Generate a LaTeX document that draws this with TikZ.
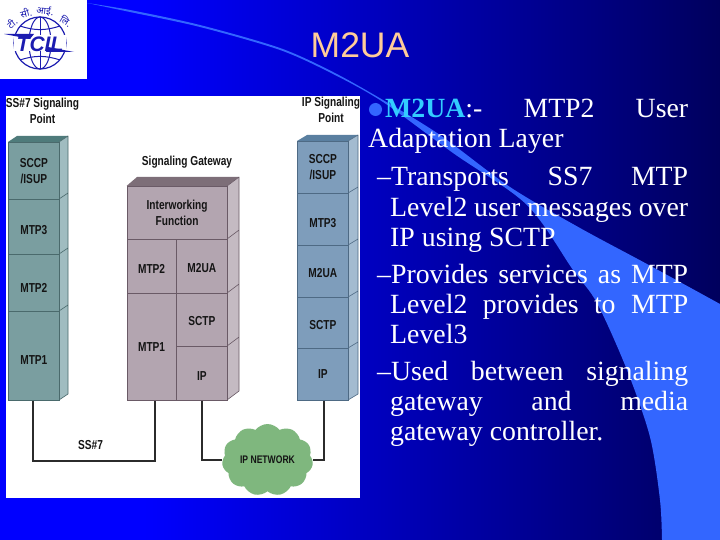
\documentclass[tikz,border=0pt]{standalone}
\usepackage{fontspec}
\usetikzlibrary{shapes.symbols}
\setmainfont{Liberation Serif}
\newfontfamily\titlefont{Liberation Sans}
\newfontfamily\labfont[FakeStretch=0.78]{Liberation Sans}
\newfontfamily\hindifont[Script=Devanagari]{Noto Sans}
\newcommand{\jl}[2]{\makebox[#1pt][s]{#2}}
\definecolor{bgA}{rgb}{0,0,1}
\definecolor{bgB}{rgb}{0,0,0}
\pgfdeclarehorizontalshading{bgshade}{100bp}{color(0bp)=(bgA); color(35bp)=(bgA); color(98bp)=(bgB); color(100bp)=(bgB)}
\definecolor{wedgeblue}{HTML}{3366FF}
\definecolor{titlepeach}{HTML}{FFCC99}
\definecolor{headcyan}{HTML}{33CCFF}
\definecolor{logoblue}{HTML}{1C1CB0}
\definecolor{tealF}{HTML}{7A9EA0}\definecolor{tealT}{HTML}{4F7B7B}\definecolor{tealS}{HTML}{A0BCC0}\definecolor{tealL}{HTML}{4A6A6C}
\definecolor{mauveF}{HTML}{B3A5B0}\definecolor{mauveT}{HTML}{7D6E78}\definecolor{mauveS}{HTML}{C4BAC2}\definecolor{mauveL}{HTML}{6A5A66}
\definecolor{steelF}{HTML}{7E9DBB}\definecolor{steelT}{HTML}{5A7FA0}\definecolor{steelS}{HTML}{A3BBD0}\definecolor{steelL}{HTML}{4E6A84}
\definecolor{cloudgreen}{HTML}{7FB77E}
\definecolor{wirecol}{HTML}{2B2B2B}
\tikzset{
  x=1pt,y=-1pt,
  layerbox/.style={draw,line width=.7pt,anchor=north west,inner sep=0pt,align=center,
    font=\labfont\bfseries\fontsize{13}{16}\selectfont,text=black!92},
  teal box/.style={layerbox,fill=tealF,draw=tealL},
  mauve box/.style={layerbox,fill=mauveF,draw=mauveL},
  steel box/.style={layerbox,fill=steelF,draw=steelL},
  caption/.style={align=center,inner sep=0pt,font=\labfont\bfseries\fontsize{13}{15.5}\selectfont,text=black!92},
  wire/.style={draw=wirecol,line width=1.9pt},
  slideline/.style={anchor=base west,inner sep=0pt,text=white,font=\fontsize{27.8}{30}\selectfont},
  hindi/.style={inner sep=0pt,text=logoblue,font=\hindifont\bfseries\fontsize{9.5}{10}\selectfont},
}
\begin{document}
\begin{tikzpicture}
\useasboundingbox (0,0) rectangle (720,540);
% background
\shade[shading=bgshade] (0,0) rectangle (720,540);
% wedge
\fill[wedgeblue] plot[smooth,tension=.5] coordinates {(87,3)(130,10)(200,25)(280,48)(333,72)(383,100)(440,135)(510,187)(580,228)(647,264)(720,304)}
  -- (720,540) -- (662,540)
  -- plot[smooth,tension=.5] coordinates {(662,540)(660,500)(650,437)(627,370)(597,303)(573,270)(527,205)(453,153)(383,102)(333,74)(280,50)(200,27)(130,12)(87,3)} -- cycle;
% logo
\fill[white] (0,0) rectangle (87,79);
\begin{scope}[logoblue]
\draw[line width=1.2pt] (40,43) circle [radius=26];
\draw[line width=1pt] (40,43) ellipse [x radius=11,y radius=26];
\draw[line width=1pt] (40,17) -- (40,69);
\draw[line width=1pt] (20,26) to[bend right=18] (60,26);
\draw[line width=1pt] (20,60) to[bend left=18] (60,60);
\fill[white] (14,35) rectangle (66,51);
\fill (4,34) -- (34,34) -- (30,39) -- cycle;
\fill (74,52) -- (46,52) -- (48,47) -- cycle;
\end{scope}
\node[inner sep=0pt,text=logoblue,font=\titlefont\bfseries\itshape\fontsize{21}{22}\selectfont] (logotext) at (40,44) {TCIL};
\node[hindi,rotate=38] (h1) at (12,23) {टी.};
\node[hindi,rotate=14] (h2) at (26,13) {सी.};
\node[hindi,rotate=-6] (h3) at (45,11) {आई.};
\node[hindi,rotate=-32] (h4) at (66,21) {लि.};
% panel
\fill[white] (6,96) rectangle (360,498);
% title
\node[anchor=base,inner sep=0pt,text=titlepeach,font=\titlefont\fontsize{35.5}{38}\selectfont] (title) at (360,58) {M2UA};
% slide text
\fill[wedgeblue] (375.5,109.5) circle [radius=6.5];
\node[slideline] (l1) at (385,118) {\jl{303}{\textcolor{headcyan}{\textbf{M2UA}}:-\hfill MTP2\hfill User}};
\node[slideline] (l2) at (368,148) {Adaptation Layer};
\node[slideline] (l3) at (377,186) {\jl{311}{–Transports\hfill SS7\hfill MTP}};
\node[slideline] (l4) at (390,216) {\jl{298}{Level2\hfill user\hfill messages\hfill over}};
\node[slideline] (l5) at (390,246) {IP using SCTP};
\node[slideline] (l6) at (377,283) {\jl{311}{–Provides\hfill services\hfill as\hfill MTP}};
\node[slideline] (l7) at (390,313) {\jl{298}{Level2\hfill provides\hfill to\hfill MTP}};
\node[slideline] (l8) at (390,343) {Level3};
\node[slideline] (l9) at (377,380) {\jl{311}{–Used\hfill between\hfill signaling}};
\node[slideline] (l10) at (390,410) {\jl{298}{gateway\hfill and\hfill media}};
\node[slideline] (l11) at (390,440) {gateway controller.};
% captions
\node[caption] (capL) at (42.5,111) {SS\#7 Signaling\\Point};
\node[caption] (capG) at (187,162) {Signaling Gateway};
\node[caption] (capR) at (331,110) {IP Signaling\\Point};
% teal stack
\fill[tealT] (8,142) -- (17,136) -- (68,136) -- (59,142) -- cycle;
\fill[tealS] (59,142) -- (68,136) -- (68,394) -- (59,400) -- cycle;
\draw[tealL,line width=.6pt] (59,142) -- (68,136) (59,199) -- (68,193) (59,254) -- (68,248) (59,311) -- (68,305) (59,400) -- (68,394) -- (68,136);
\node[teal box,minimum width=51,minimum height=57] (tA) at (8,142) {SCCP\\/ISUP};
\node[teal box,minimum width=51,minimum height=55,text height=15.3pt] (tB) at (8,199) {MTP3};
\node[teal box,minimum width=51,minimum height=57,text height=18.3pt] (tC) at (8,254) {MTP2};
\node[teal box,minimum width=51,minimum height=89,text height=16.3pt] (tD) at (8,311) {MTP1};
% gateway stack
\fill[mauveT] (126.5,186) -- (137,177) -- (239,177) -- (227,186) -- cycle;
\fill[mauveS] (227,186) -- (239,177) -- (239,391) -- (227,400) -- cycle;
\draw[mauveL,line width=.6pt] (227,186) -- (239,177) (227,239) -- (239,230) (227,293) -- (239,284) (227,346) -- (239,337) (227,400) -- (239,391) -- (239,177);
\node[mauve box,minimum width=100.5,minimum height=53] (gA) at (126.5,186) {Interworking\\Function};
\node[mauve box,minimum width=49.5,minimum height=54,text height=13.3pt] (gB) at (126.5,239) {MTP2};
\node[mauve box,minimum width=51,minimum height=54,text height=13.3pt] (gC) at (176,239) {M2UA};
\node[mauve box,minimum width=49.5,minimum height=107] (gD) at (126.5,293) {MTP1};
\node[mauve box,minimum width=51,minimum height=53,text height=11.3pt] (gE) at (176,293) {SCTP};
\node[mauve box,minimum width=51,minimum height=54,text height=13.3pt] (gF) at (176,346) {IP};
% steel stack
\fill[steelT] (297,141) -- (307,135) -- (358,135) -- (348,141) -- cycle;
\fill[steelS] (348,141) -- (358,135) -- (358,394) -- (348,400) -- cycle;
\draw[steelL,line width=.6pt] (348,141) -- (358,135) (348,193) -- (358,187) (348,245) -- (358,239) (348,297) -- (358,291) (348,348) -- (358,342) (348,400) -- (358,394) -- (358,135);
\node[steel box,minimum width=51,minimum height=52] (sA) at (297,141) {SCCP\\/ISUP};
\node[steel box,minimum width=51,minimum height=52,text height=17.3pt] (sB) at (297,193) {MTP3};
\node[steel box,minimum width=51,minimum height=52,text height=13.3pt] (sC) at (297,245) {M2UA};
\node[steel box,minimum width=51,minimum height=51,text height=13.3pt] (sD) at (297,297) {SCTP};
\node[steel box,minimum width=51,minimum height=52] (sE) at (297,348) {IP};
% cloud
\node[cloud,cloud puffs=11,cloud puff arc=105,aspect=1.25,fill=cloudgreen,inner sep=0pt,minimum width=91,minimum height=72,
  font=\labfont\bfseries\fontsize{11}{12}\selectfont,text=black!92] (net) at (267.5,460) {IP NETWORK};
% connectors
\draw[wire] ([xshift=-1]tD.south) -- ++(0,60) -| ([xshift=3]gD.south);
\node[caption] (ss7) at (90.5,445) {SS\#7};
\draw[wire] (gF.south) |- (net.west);
\draw[wire] ([xshift=1.5]sE.south) |- (net.east);
\end{tikzpicture}
\end{document}
